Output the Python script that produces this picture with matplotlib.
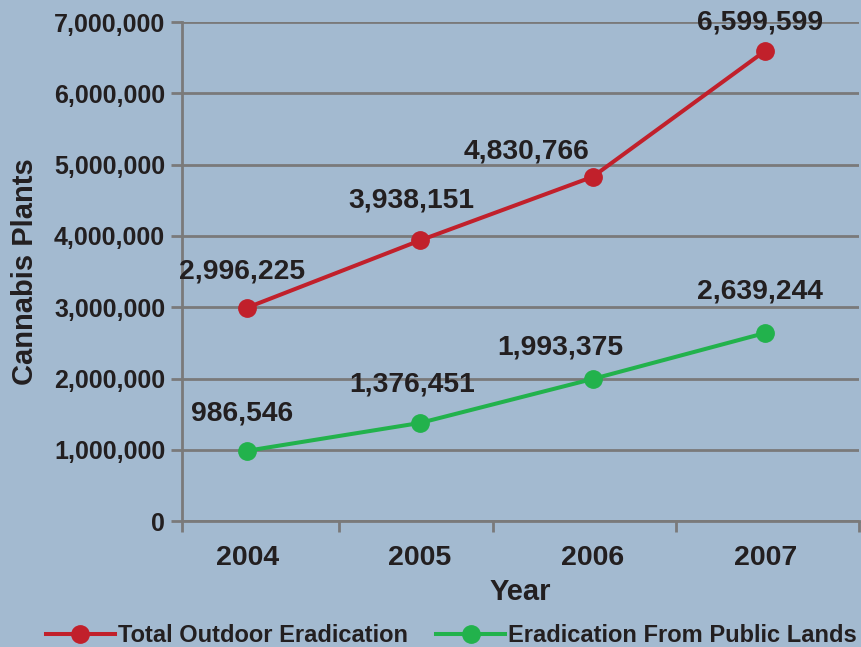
import matplotlib
matplotlib.use('Agg')
import matplotlib.pyplot as plt
from matplotlib.ticker import FuncFormatter, FixedLocator

# Data
years = ['2004', '2005', '2006', '2007']
total_outdoor = [2996225, 3938151, 4830766, 6599599]
public_lands = [986546, 1376451, 1993375, 2639244]

# Label offsets (points) for the value annotations
total_offsets = [(-4, 26), (-6, 29), (-48, 18), (-4, 20)]
public_offsets = [(-4, 27), (-6, 28), (-23, 23), (-4, 30)]

bg = '#A3BAD0'
grid_col = '#7A7A7A'
red = '#C1202B'
green = '#22B24C'
text_col = '#231F20'

plt.rcParams['font.family'] = ['Liberation Sans', 'DejaVu Sans']
plt.rcParams['font.weight'] = 'bold'

fig = plt.figure(figsize=(8.62, 6.47), dpi=100, facecolor=bg)
ax = fig.add_axes([0.211, 0.1947, 0.785, 0.771], facecolor=bg)

x = list(range(len(years)))

########################
# Lines
########################
ax.plot(x, total_outdoor, color=red, lw=2.9, marker='o', markersize=12.5,
        label='Total Outdoor Eradication', zorder=3, clip_on=False)
ax.plot(x, public_lands, color=green, lw=2.9, marker='o', markersize=12.5,
        label='Eradication From Public Lands', zorder=3, clip_on=False)

# Value labels
for xi, v, off in zip(x, total_outdoor, total_offsets):
    ax.annotate(f'{v:,}', (xi, v), xytext=off, textcoords='offset points',
                ha='center', va='center', fontsize=20.3, fontweight='bold',
                color=text_col, zorder=4, annotation_clip=False)
for xi, v, off in zip(x, public_lands, public_offsets):
    ax.annotate(f'{v:,}', (xi, v), xytext=off, textcoords='offset points',
                ha='center', va='center', fontsize=20.3, fontweight='bold',
                color=text_col, zorder=4, annotation_clip=False)

########################
# Axes styling
########################
ax.set_xlim(-0.38, 3.54)
ax.set_ylim(0, 7000000)
ax.set_yticks(range(0, 7000001, 1000000))
ax.yaxis.set_major_formatter(FuncFormatter(lambda v, p: f'{int(v):,}'))
ax.grid(axis='y', color=grid_col, lw=2)
ax.set_axisbelow(True)

ax.set_xticks(x)
ax.set_xticklabels(years)
ax.xaxis.set_minor_locator(FixedLocator([-0.38, 0.53, 1.42, 2.48, 3.54]))
ax.tick_params(axis='x', which='major', length=0, pad=17, labelsize=20.5, colors=text_col)
ax.tick_params(axis='x', which='minor', length=8, width=2, color=grid_col, direction='out')
ax.tick_params(axis='y', length=8, width=2, color=grid_col, direction='out',
               labelsize=18, labelcolor=text_col, pad=4)

for side in ['top', 'right']:
    ax.spines[side].set_visible(False)
for side in ['left', 'bottom']:
    ax.spines[side].set_color(grid_col)
    ax.spines[side].set_linewidth(2)

ax.set_xlabel('Year', fontsize=21, fontweight='bold', color=text_col, labelpad=5)
ax.set_ylabel('Cannabis Plants', fontsize=21, fontweight='bold', color=text_col, labelpad=11)

########################
# Legend
########################
fig.legend(loc='lower center', bbox_to_anchor=(0.524, -0.033), ncol=2, frameon=False,
           fontsize=17, handlelength=2.9, handletextpad=0.15, columnspacing=1.2,
           labelcolor=text_col)

plt.savefig('out.png', dpi=100, facecolor=bg)
